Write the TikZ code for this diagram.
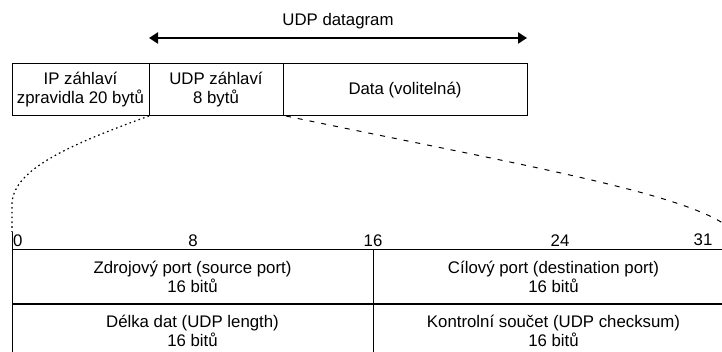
\documentclass[tikz,border=0pt]{standalone}
\usepackage{fontspec}
\setmainfont{Liberation Sans}
\usetikzlibrary{arrows.meta, positioning}

\begin{document}
\begin{tikzpicture}[
    x=1pt, y=-1pt,
    font=\fontsize{16.8}{19}\selectfont,
    box/.style={draw, line width=1pt, outer sep=0pt, inner sep=0pt, minimum height=52pt, align=center},
    field/.style={draw, line width=1pt, outer sep=0pt, inner sep=0pt, minimum width=361pt, minimum height=54pt, align=center},
    bit/.style={inner sep=0pt, anchor=base},
    dotline/.style={line width=1.2pt, dash pattern=on 1.6pt off 3.2pt},
    dashline/.style={line width=1pt, dash pattern=on 5pt off 7pt}
]
    \useasboundingbox (0,0) rectangle (722,352);
    \clip (0,0) rectangle (722,352);

    % datagram
    \node[box, minimum width=137pt] (ip) at (80.5,90) {IP záhlaví\\zpravidla 20 bytů};
    \node[box, minimum width=134pt, right=0pt of ip] (udph) {UDP záhlaví\\8 bytů};
    \node[box, minimum width=244pt, right=0pt of udph] (data) {Data (volitelná)};

    \node (dgram) at (338,21) {UDP datagram};
    \draw[line width=2.2pt, {Triangle[length=9pt, width=11pt]}-{Triangle[length=9pt, width=11pt]}]
        ([yshift=26pt]udph.north west) -- ([yshift=26pt]data.north east);

    % hlavicka UDP
    \node[field] (src) at (192.5,277) {Zdrojový port (source port)\\16 bitů};
    \node[field, right=0pt of src] (dst) {Cílový port (destination port)\\16 bitů};
    \node[field, below=0pt of src] (len) {Délka dat (UDP length)\\16 bitů};
    \node[field, right=0pt of len] (sum) {Kontrolní součet (UDP checksum)\\16 bitů};

    \node[bit, anchor=base west] (b0) at (13,247) {0};
    \node[bit] (b8) at (193,247) {8};
    \node[bit] (b16) at (373,247) {16};
    \node[bit] (b24) at (560,247) {24};
    \node[bit] (b31) at (703,246) {31};

    \coordinate (z0) at (12,232);
    \coordinate (z32) at (734,232);
    \draw[line width=1pt] (z0) -- (src.north west);

    \draw[dotline] (ip.south east) .. controls (60,148) and (12,172) .. (12,205) -- (z0);
    \draw[dashline] ([xshift=3pt]data.south west) .. controls (520,165) and (700,195) .. (z32);
\end{tikzpicture}
\end{document}
